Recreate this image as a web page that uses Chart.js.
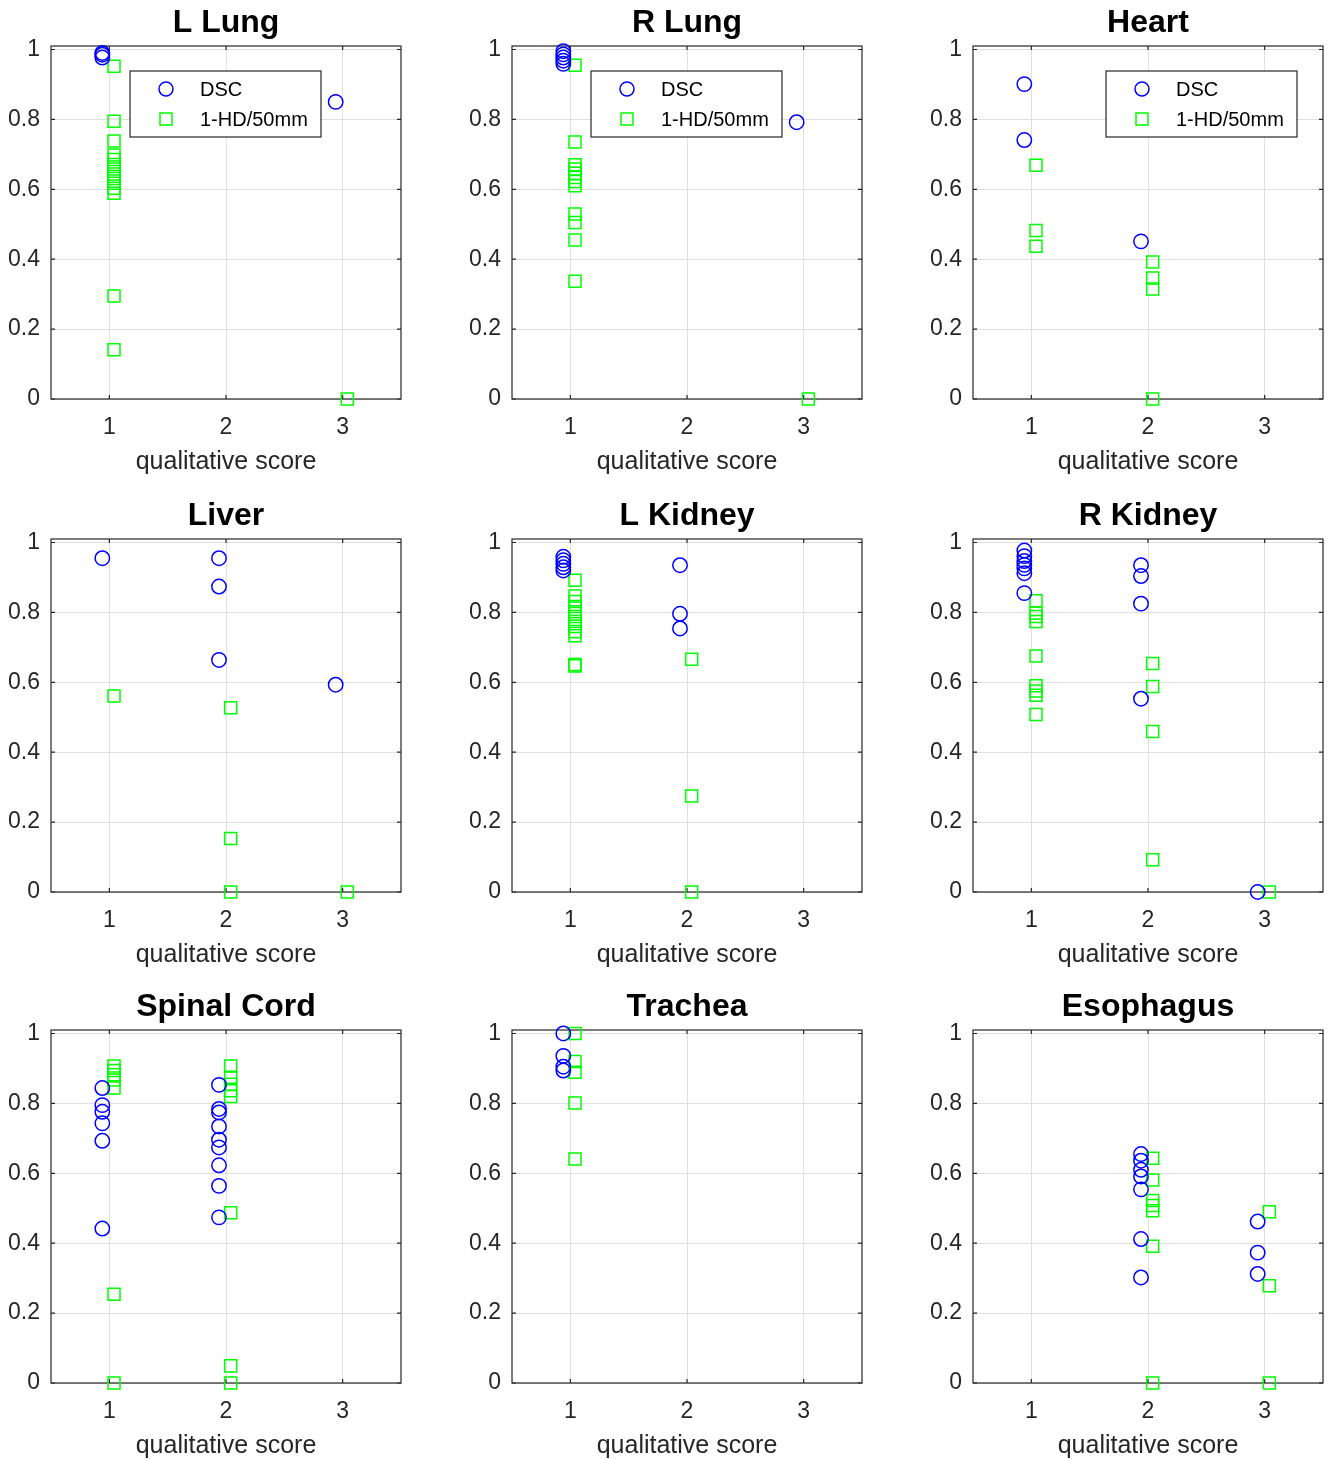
<!DOCTYPE html>
<html>
<head>
<meta charset="utf-8">
<script src="https://cdn.jsdelivr.net/npm/chart.js@4.4.1/dist/chart.umd.min.js"></script>
<style>
  html,body{margin:0;padding:0;background:#fff;}
  body{width:1328px;height:1459px;overflow:hidden;position:relative;}
  canvas{position:absolute;}
</style>
</head>
<body>
<script>
/* -------------------- Data (values per score 1,2,3) -------------------- */
const scores = [1, 2, 3];
const yTicks = [0, 0.2, 0.4, 0.6, 0.8, 1];
const titles = ['L Lung','R Lung','Heart','Liver','L Kidney','R Kidney','Spinal Cord','Trachea','Esophagus'];

const lLungDSC = [[0.99, 0.985, 0.977], [], [0.850]];
const lLungHD  = [[0.952, 0.795, 0.738, 0.698, 0.685, 0.671, 0.658, 0.644, 0.631, 0.617, 0.603, 0.589, 0.295, 0.141], [], [0]];

const rLungDSC = [[0.995, 0.986, 0.977, 0.968, 0.959], [], [0.792]];
const rLungHD  = [[0.955, 0.735, 0.670, 0.658, 0.646, 0.634, 0.622, 0.610, 0.529, 0.505, 0.455, 0.337], [], [0]];

const heartDSC = [[0.901, 0.741], [0.451], []];
const heartHD  = [[0.669, 0.482, 0.437], [0.392, 0.346, 0.315, 0], []];

const liverDSC = [[0.955], [0.955, 0.874, 0.664], [0.593]];
const liverHD  = [[0.561], [0.527, 0.153, 0], [0]];

const lKidneyDSC = [[0.959, 0.949, 0.939, 0.929, 0.920], [0.935, 0.796, 0.754], []];
const lKidneyHD  = [[0.892, 0.847, 0.831, 0.817, 0.802, 0.788, 0.774, 0.760, 0.745, 0.733, 0.651, 0.647], [0.666, 0.275, 0], []];

const rKidneyDSC = [[0.977, 0.961, 0.947, 0.936, 0.926, 0.912, 0.855], [0.935, 0.904, 0.825, 0.553], [0]];
const rKidneyHD  = [[0.833, 0.798, 0.788, 0.774, 0.675, 0.590, 0.575, 0.563, 0.508], [0.654, 0.588, 0.459, 0.092], [0]];

const spinalDSC = [[0.844, 0.795, 0.776, 0.743, 0.693, 0.442], [0.853, 0.784, 0.774, 0.734, 0.696, 0.674, 0.623, 0.564, 0.474], []];
const spinalHD  = [[0.907, 0.894, 0.882, 0.867, 0.844, 0.254, 0], [0.907, 0.875, 0.855, 0.836, 0.820, 0.487, 0.049, 0], []];

const tracheaDSC = [[1.0, 0.936, 0.905, 0.894], [], []];
const tracheaHD  = [[1.0, 0.920, 0.889, 0.801, 0.641], [], []];

const esophDSC = [[], [0.655, 0.636, 0.610, 0.591, 0.554, 0.412, 0.302], [0.462, 0.373, 0.312]];
const esophHD  = [[], [0.643, 0.581, 0.522, 0.508, 0.493, 0.391, 0], [0.490, 0.278, 0]];

const dscSeries = [lLungDSC, rLungDSC, heartDSC, liverDSC, lKidneyDSC, rKidneyDSC, spinalDSC, tracheaDSC, esophDSC];
const hdSeries  = [lLungHD, rLungHD, heartHD, liverHD, lKidneyHD, rKidneyHD, spinalHD, tracheaHD, esophHD];

/* -------------------- Layout -------------------- */
const FONT = "'Liberation Sans', Arial, Helvetica, sans-serif";
const AXIS = '#262626';
const colLeft = [0, 461, 922];
const rowTop = [0, 493, 984];
const legendLeft = [79, 79, 133];   // px from plot left, first row only
const dscOffset = -0.06, hdOffset = 0.04;

function toPoints(groups, off){
  const pts = [];
  groups.forEach((vals, i) => vals.forEach(v => pts.push({x: scores[i] + off, y: v})));
  return pts;
}

/* -------------------- Plugins -------------------- */
const frame = {
  id: 'frame',
  beforeDatasetsDraw(chart){
    const {ctx, chartArea: a, scales: {x, y}} = chart;
    ctx.save();
    ctx.strokeStyle = AXIS;
    ctx.lineWidth = 1.2;
    ctx.strokeRect(a.left, a.top, a.width, a.height);
    ctx.beginPath();
    scores.forEach(v => {
      const px = x.getPixelForValue(v);
      ctx.moveTo(px, a.bottom); ctx.lineTo(px, a.bottom - 4);
      ctx.moveTo(px, a.top); ctx.lineTo(px, a.top + 4);
    });
    yTicks.forEach(v => {
      const py = y.getPixelForValue(v);
      ctx.moveTo(a.left, py); ctx.lineTo(a.left + 4, py);
      ctx.moveTo(a.right, py); ctx.lineTo(a.right - 4, py);
    });
    ctx.stroke();
    ctx.restore();
  }
};

const boxLegend = {
  id: 'boxLegend',
  afterDatasetsDraw(chart, args, opts){
    if (opts.left == null) return;
    const {ctx, chartArea: a} = chart;
    const l = a.left + opts.left, t = a.top + 25, w = 191, h = 66;
    ctx.save();
    ctx.fillStyle = '#fff';
    ctx.fillRect(l, t, w, h);
    ctx.strokeStyle = AXIS;
    ctx.lineWidth = 1.2;
    ctx.strokeRect(l, t, w, h);
    ctx.lineWidth = 1.5;
    ctx.strokeStyle = '#0000ff';
    ctx.beginPath(); ctx.arc(l + 36, t + 18, 7, 0, Math.PI * 2); ctx.stroke();
    ctx.strokeStyle = '#00ff00';
    ctx.strokeRect(l + 30, t + 42, 12, 12);
    ctx.fillStyle = '#000';
    ctx.font = '20px ' + FONT;
    ctx.textBaseline = 'middle';
    ctx.fillText('DSC', l + 70, t + 19);
    ctx.fillText('1-HD/50mm', l + 70, t + 49);
    ctx.restore();
  }
};

/* -------------------- Charts -------------------- */
titles.forEach((title, i) => {
  const row = Math.floor(i / 3), col = i % 3;
  const cv = document.createElement('canvas');
  cv.width = 452; cv.height = 491;
  cv.style.left = colLeft[col] + 'px';
  cv.style.top = rowTop[row] + 'px';
  document.body.appendChild(cv);

  new Chart(cv, {
    type: 'scatter',
    data: {
      datasets: [
        {label: 'DSC', data: toPoints(dscSeries[i], dscOffset), pointStyle: 'circle', radius: 7.2,
         borderColor: '#0000ff', backgroundColor: 'rgba(0,0,0,0)', borderWidth: 1.5, clip: false},
        {label: '1-HD/50mm', data: toPoints(hdSeries[i], hdOffset), pointStyle: 'rect', radius: 8.5,
         borderColor: '#00ff00', backgroundColor: 'rgba(0,0,0,0)', borderWidth: 1.5, clip: false}
      ]
    },
    options: {
      responsive: false,
      animation: false,
      devicePixelRatio: 1,
      layout: {padding: 0},
      events: [],
      plugins: {
        legend: {display: false},
        tooltip: {enabled: false},
        title: {display: true, text: title, color: '#000',
                font: {family: FONT, size: 32, weight: 'bold'}, padding: {top: 4, bottom: 3.6}},
        boxLegend: {left: row === 0 ? legendLeft[col] : null}
      },
      scales: {
        x: {
          type: 'linear', min: 0.5, max: 3.5,
          afterBuildTicks: s => { s.ticks = scores.map(v => ({value: v})); },
          afterFit: s => { s.height = 92; },
          ticks: {color: AXIS, font: {family: FONT, size: 23}, padding: 15, callback: v => String(v)},
          grid: {color: '#e0e0e0', lineWidth: 1, drawTicks: false},
          border: {display: false},
          title: {display: true, text: 'qualitative score', color: AXIS,
                  font: {family: FONT, size: 25}, padding: {top: 0, bottom: 14}}
        },
        y: {
          type: 'linear', min: 0, max: 1.01,
          afterBuildTicks: s => { s.ticks = yTicks.map(v => ({value: v})); },
          afterFit: s => { s.width = 51; },
          ticks: {color: AXIS, font: {family: FONT, size: 23}, padding: 11, callback: v => String(v)},
          grid: {color: '#e0e0e0', lineWidth: 1, drawTicks: false},
          border: {display: false}
        },
        yRight: {
          type: 'linear', position: 'right', min: 0, max: 1.01,
          afterFit: s => { s.width = 51; },
          ticks: {display: false},
          grid: {display: false, drawTicks: false},
          border: {display: false}
        }
      }
    },
    plugins: [frame, boxLegend]
  });
});
</script>
</body>
</html>
